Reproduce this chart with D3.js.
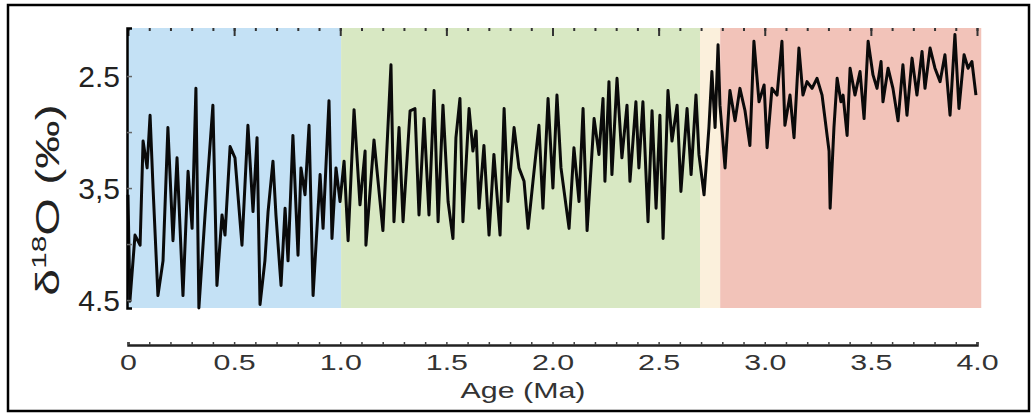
<!DOCTYPE html>
<meta charset="utf-8">
<style>
body { margin: 0; background: #fff; }
text { font-family: "Liberation Sans", Arial, sans-serif; }
</style>
<body>
<svg width="1036" height="415"></svg>
<script src="https://d3js.org/d3.v7.min.js"></script>
<script>

// age (Ma) and d18O (permil)
var age = [0.000,0.009,0.033,0.057,0.071,0.090,0.104,0.118,0.141,0.165,0.188,0.212,0.231,0.259,0.283,0.302,0.320,0.334,0.363,0.400,
  0.419,0.443,0.457,0.481,0.504,0.537,0.565,0.589,0.608,0.622,0.645,0.660,0.683,0.697,0.721,0.740,0.754,0.777,0.801,0.815,
  0.834,0.853,0.872,0.905,0.919,0.947,0.961,0.980,0.999,1.018,1.037,1.065,1.093,1.117,1.121,1.159,1.201,1.239,1.253,1.277,
  1.296,1.329,1.352,1.371,1.395,1.418,1.442,1.461,1.484,1.508,1.531,1.545,1.564,1.578,1.607,1.625,1.640,1.654,1.677,1.701,
  1.724,1.753,1.772,1.790,1.819,1.842,1.866,1.885,1.908,1.936,1.955,1.979,2.002,2.021,2.040,2.078,2.101,2.125,2.144,2.163,
  2.196,2.219,2.238,2.247,2.266,2.280,2.304,2.327,2.351,2.365,2.393,2.407,2.426,2.450,2.469,2.488,2.506,2.521,2.544,2.563,
  2.587,2.605,2.634,2.653,2.676,2.690,2.714,2.737,2.751,2.766,2.780,2.789,2.813,2.836,2.860,2.883,2.907,2.930,2.949,2.973,
  2.997,3.011,3.034,3.058,3.081,3.095,3.119,3.138,3.161,3.180,3.199,3.223,3.246,3.270,3.303,3.308,3.326,3.341,3.359,3.369,
  3.388,3.402,3.425,3.449,3.468,3.487,3.510,3.529,3.548,3.557,3.581,3.604,3.628,3.651,3.670,3.694,3.717,3.741,3.755,3.779,
  3.802,3.826,3.849,3.873,3.896,3.915,3.939,3.958,3.976,3.995];
var d18O = [3.56,4.51,3.92,4.01,3.08,3.32,2.85,3.50,4.46,4.15,2.96,3.97,3.23,4.46,3.35,3.86,2.61,4.57,3.74,2.76,
  4.37,3.74,3.92,3.13,3.23,4.01,2.94,3.71,3.05,4.54,4.15,3.71,3.26,3.74,4.37,3.68,4.15,3.03,4.10,3.32,
  3.56,2.94,4.46,3.38,3.86,2.72,3.95,3.32,3.62,3.26,3.97,2.80,3.65,3.17,4.01,3.07,3.88,2.40,3.80,2.96,
  3.80,2.81,2.79,3.74,2.88,3.74,2.63,3.80,2.76,3.62,3.95,3.05,2.70,3.80,2.79,3.17,2.99,3.68,3.12,3.92,
  3.20,3.92,2.79,3.62,2.96,3.32,3.44,3.86,3.44,2.94,3.68,2.70,3.50,2.67,3.32,3.86,3.14,3.62,2.79,3.88,
  2.88,3.20,2.70,3.44,2.55,3.38,2.52,3.23,2.76,3.44,2.73,3.32,2.73,3.80,2.81,3.68,2.85,3.95,2.63,3.08,
  2.76,3.53,2.79,3.38,2.67,3.20,3.56,2.96,2.46,2.96,2.22,2.76,3.32,2.63,2.90,2.61,2.81,3.12,2.19,2.73,
  2.58,3.14,2.61,2.67,2.19,2.94,2.67,3.05,2.25,2.67,2.55,2.61,2.52,2.67,3.17,3.68,2.96,2.52,2.73,2.67,
  3.03,2.43,2.67,2.46,2.88,2.19,2.49,2.61,2.37,2.73,2.43,2.61,2.90,2.40,2.85,2.34,2.67,2.28,2.61,2.25,
  2.43,2.55,2.31,2.85,2.13,2.79,2.31,2.43,2.37,2.67];

// climate stages shaded behind the record
var stageStart = [0, 1.004, 2.695, 2.79];
var stageEnd = [1.004, 2.695, 2.79, 4.02];
var stageColor = ["#c4e1f5", "#d8e8c3", "#fbf0dc", "#f2c3b9"];

var xTicks = [0, 0.5, 1.0, 1.5, 2.0, 2.5, 3.0, 3.5, 4.0];
var yTicks = [2.5, 3.0, 3.5, 4.0, 4.5];
var yLabelValues = [2.5, 3.5, 4.5];
var yLabels = ["2.5", "3,5", "4.5"];

var svg = d3.select("svg");

var x = d3.scaleLinear().domain([0, 4]).range([128, 977]);
var y = d3.scaleLinear().domain([2.071, 4.571]).range([28, 308]);

// outer frame
svg.append("rect")
	.attr("x", 8).attr("y", 5)
	.attr("width", 1021).attr("height", 406)
	.attr("fill", "none")
	.attr("stroke", "#000")
	.attr("stroke-width", 2.5);

svg.selectAll(".stage")
	.data(d3.range(stageStart.length))
	.enter().append("rect")
	.attr("class", "stage")
	.attr("x", function(i){ return x(stageStart[i]); })
	.attr("width", function(i){ return x(stageEnd[i]) - x(stageStart[i]); })
	.attr("y", y.range()[0])
	.attr("height", y.range()[1] - y.range()[0])
	.attr("fill", function(i){ return stageColor[i]; });

// top tick dots
var topMinor = d3.axisBottom(x).tickValues(d3.range(0, 4.01, 0.1)).tickSize(3).tickFormat("");
var topMajor = d3.axisBottom(x).tickValues(xTicks).tickSize(8).tickFormat("");
[topMinor, topMajor].forEach(function(ax){
	var g = svg.append("g").attr("transform", "translate(0,28)").call(ax);
	g.select(".domain").remove();
	g.selectAll("line").attr("stroke", "#333").attr("stroke-width", 2);
});

var line = d3.line()
	.x(function(d, i){ return x(age[i]); })
	.y(function(d){ return y(d); });

svg.append("path")
	.datum(d18O)
	.attr("fill", "none")
	.attr("stroke", "#0a0a0a")
	.attr("stroke-width", 3)
	.attr("stroke-linejoin", "round")
	.attr("d", line);

// y axis
var yAxis = svg.append("g")
	.attr("transform", "translate(127,0)")
	.call(d3.axisRight(y).tickValues(yTicks).tickSize(5).tickFormat(""));
yAxis.select(".domain").attr("stroke", "#000").attr("stroke-width", 2.5);
yAxis.selectAll(".tick line").attr("stroke", "#666").attr("stroke-width", 1.5);

svg.selectAll(".ylab")
	.data(yLabelValues)
	.enter().append("text")
	.attr("class", "ylab")
	.attr("x", 120)
	.attr("y", function(d){ return y(d); })
	.attr("dy", "0.36em")
	.attr("text-anchor", "end")
	.attr("font-size", 30)
	.attr("fill", "#222")
	.text(function(d, i){ return yLabels[i]; });

var ytitle = svg.append("text")
	.attr("transform", "translate(59,200) rotate(-90) scale(1.42,1)")
	.attr("text-anchor", "middle")
	.attr("font-size", 34)
	.attr("fill", "#222");
ytitle.append("tspan").text("δ");
ytitle.append("tspan").attr("font-size", 21).attr("dy", -13).text("18");
ytitle.append("tspan").attr("dy", 13).text("O (‰)");

// x axis
var xMinor = svg.append("g")
	.attr("transform", "translate(0,345)")
	.call(d3.axisBottom(x).tickValues(d3.range(0, 4.01, 0.1)).tickSize(-3).tickFormat(""));
xMinor.select(".domain").attr("stroke", "#222").attr("stroke-width", 2.5);
xMinor.selectAll(".tick line").attr("stroke", "#444").attr("stroke-width", 1.5);

var xAxis = svg.append("g")
	.attr("transform", "translate(0,345)")
	.call(d3.axisBottom(x).tickValues(xTicks).tickSize(0).tickPadding(9)
		.tickFormat(function(d){ return d === 0 ? "0" : d3.format(".1f")(d); }));
xAxis.select(".domain").remove();
xAxis.selectAll("text")
	.attr("font-size", 22)
	.attr("font-family", "Liberation Sans, Arial, sans-serif")
	.attr("fill", "#333")
	.attr("transform", "scale(1.38,1)");

svg.append("text")
	.attr("transform", "translate(523,398) scale(1.38,1)")
	.attr("text-anchor", "middle")
	.attr("font-size", 22)
	.attr("fill", "#333")
	.text("Age (Ma)");

</script>
</body>
</html>
